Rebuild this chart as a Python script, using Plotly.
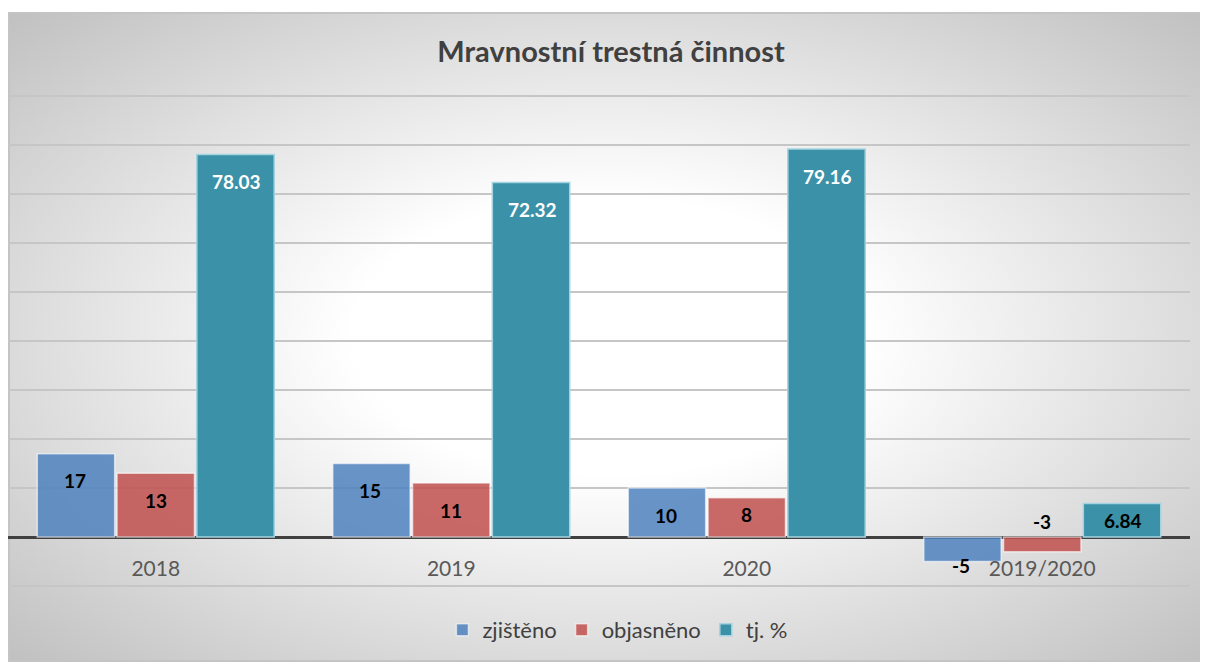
import base64
import plotly.graph_objects as go

# data
categories = ["2018", "2019", "2020", "2019/2020"]
zjisteno = [17, 15, 10, -5]
objasneno = [13, 11, 8, -3]
tj_pct = [78.03, 72.32, 79.16, 6.84]
series_names = ["zjištěno", "objasněno", "tj. %"]

title_text = "Mravnostní trestná činnost"
FONT = "Lato, 'Open Sans', sans-serif"

# radial grey -> white background of the chart box (Excel style)
svg = (
    "<svg xmlns='http://www.w3.org/2000/svg' width='1201' height='650' "
    "viewBox='0 0 1201 650' preserveAspectRatio='none'>"
    "<defs><radialGradient id='g' cx='50%' cy='50%' r='71%'>"
    "<stop offset='0' stop-color='#ffffff'/>"
    "<stop offset='0.3' stop-color='#ffffff'/>"
    "<stop offset='1' stop-color='#c0c0c0'/>"
    "</radialGradient></defs>"
    "<rect x='1' y='1' width='1199' height='648' fill='url(#g)' "
    "stroke='#c4c4c4' stroke-width='2'/></svg>"
)
bg_src = "data:image/svg+xml;base64," + base64.b64encode(svg.encode()).decode()

fig = go.Figure()

fig.add_trace(go.Bar(
    x=categories, y=zjisteno, name=series_names[0],
    marker=dict(color="rgba(79,129,189,0.85)",
                line=dict(color="rgba(255,255,255,0.6)", width=1.5)),
))
fig.add_trace(go.Bar(
    x=categories, y=objasneno, name=series_names[1],
    marker=dict(color="rgba(192,80,77,0.85)",
                line=dict(color="rgba(255,255,255,0.6)", width=1.5)),
))
fig.add_trace(go.Bar(
    x=categories, y=tj_pct, name=series_names[2],
    marker=dict(color="#3b91a8", line=dict(color="#a5d3df", width=1.5)),
))

# data labels ("inside end" like Excel)
annotations = []
shifts = [-81, 0, 81]
for si, vals in enumerate([zjisteno, objasneno, tj_pct]):
    for ci, v in enumerate(vals):
        txt = f"{v:.2f}" if si == 2 else f"{v}"
        color = "white" if (si == 2 and v > 20) else "black"
        if v >= 0:
            y, ys = v, -27 if v > 8 else -17
        elif si == 0:
            y, ys = v, -4
        else:
            y, ys = 0, 16
        annotations.append(dict(
            x=ci, y=y, xref="x", yref="y", text=f"<b>{txt}</b>",
            showarrow=False, xshift=shifts[si], yshift=ys, yanchor="middle",
            font=dict(family=FONT, size=19, color=color),
        ))

# page body has an 8px margin, so the figure is 8px smaller than the window
fig.update_layout(
    width=1200, height=654,
    margin=dict(l=0, r=18, t=86, b=74, autoexpand=False),
    paper_bgcolor="white",
    plot_bgcolor="rgba(0,0,0,0)",
    barmode="group", bargap=0.19, bargroupgap=0.03,
    title=dict(text=f"<b>{title_text}</b>", x=603 / 1200, xref="container",
               y=1 - 44 / 654, yref="container", yanchor="middle",
               font=dict(family=FONT, size=29, color="#404040"),
               automargin=False),
    font=dict(family=FONT, color="#595959"),
    showlegend=True,
    legend=dict(orientation="h", x=0.516, xanchor="center", y=-0.085,
                yanchor="middle", font=dict(family=FONT, size=22, color="#404040"),
                bgcolor="rgba(0,0,0,0)", itemwidth=30),
    annotations=annotations,
    images=[dict(source=bg_src, xref="paper", yref="paper",
                 x=0, y=1 + (86 - 4) / 494, sizex=1200 / 1182,
                 sizey=650 / 494, xanchor="left", yanchor="top",
                 sizing="stretch", layer="below")],
)

fig.update_yaxes(range=[-10.4, 90.4], dtick=10, showticklabels=False,
                 showgrid=True, gridcolor="#c6c6c6", gridwidth=1.5,
                 zeroline=True, zerolinecolor="#404040", zerolinewidth=3,
                 fixedrange=True, automargin=False)
fig.update_xaxes(type="category", range=[-0.5, 3.5], anchor="free",
                 position=(580 - 529) / 494, showgrid=False, ticks="",
                 ticklabelstandoff=17, automargin=False,
                 tickfont=dict(family=FONT, size=21, color="#595959"),
                 showline=False)

fig.write_html("out.html")
